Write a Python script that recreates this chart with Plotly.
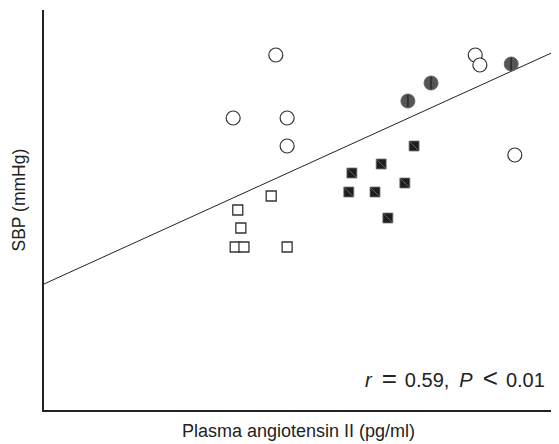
import plotly.graph_objects as go

# Data (arbitrary units; no tick labels in the original)
open_circle_x = [45.1, 36.8, 47.3, 47.3, 83.9, 84.8, 91.6]
open_circle_y = [188.75, 173.0, 173.0, 166.0, 188.75, 186.25, 163.75]

filled_circle_x = [70.8, 75.3, 90.9]
filled_circle_y = [177.25, 181.75, 186.5]

open_square_x = [44.2, 37.7, 38.3, 37.2, 38.9, 47.3]
open_square_y = [153.5, 150.0, 145.5, 140.75, 140.75, 140.75]

filled_square_x = [72.0, 65.6, 59.9, 59.3, 64.4, 70.2, 66.9]
filled_square_y = [166.0, 161.5, 159.25, 154.5, 154.5, 156.75, 148.0]

line_intercept = 131.5
line_slope = 0.585
x_range = [0, 100]
y_range = [100, 200]

FONT = "Liberation Sans, Arial, sans-serif"

fig = go.Figure()

# regression line
lx = x_range
ly = [line_intercept + line_slope * v for v in lx]
fig.add_trace(go.Scatter(x=lx, y=ly, mode="lines", cliponaxis=False,
                         line=dict(color="#222222", width=1), hoverinfo="skip"))

fig.add_trace(go.Scatter(x=open_circle_x, y=open_circle_y, mode="markers",
                         marker=dict(symbol="circle", size=14, color="white",
                                     line=dict(color="#333333", width=1.2))))
fig.add_trace(go.Scatter(x=filled_circle_x, y=filled_circle_y, mode="markers",
                         marker=dict(symbol="circle", size=14, color="#555555",
                                     line=dict(color="#666666", width=1))))
fig.add_trace(go.Scatter(x=filled_circle_x, y=filled_circle_y, mode="markers",
                         marker=dict(symbol="line-ns", size=9,
                                     line=dict(color="#2a2a2a", width=1.5))))
fig.add_trace(go.Scatter(x=open_square_x, y=open_square_y, mode="markers",
                         marker=dict(symbol="square", size=10, color="white",
                                     line=dict(color="#333333", width=1.3))))
fig.add_trace(go.Scatter(x=filled_square_x, y=filled_square_y, mode="markers",
                         marker=dict(symbol="square", size=10, color="#1e1e1e",
                                     line=dict(color="#777777", width=0.8))))
fig.add_trace(go.Scatter(x=filled_square_x, y=filled_square_y, mode="markers",
                         marker=dict(symbol="line-nw", size=9,
                                     line=dict(color="#777777", width=0.8))))

stat_text = ("<i>r</i>\u2002<span style='font-size:26px'>=</span>\u2009\u20090.59,\u2002"
             "<i>P</i>\u2002<span style='font-size:26px'>&lt;</span>\u2009\u20090.01")

# the page adds an 8px body margin, so the figure is 8px smaller than the window
fig.update_layout(
    width=551, height=436,
    margin=dict(l=36, r=1, t=2, b=34),
    paper_bgcolor="white", plot_bgcolor="white",
    showlegend=False,
    font=dict(family=FONT, size=18, color="#222222"),
    xaxis=dict(range=x_range, showgrid=False, zeroline=False, showticklabels=False,
               ticks="", showline=True, linecolor="#222222", linewidth=2),
    yaxis=dict(range=y_range, showgrid=False, zeroline=False, showticklabels=False,
               ticks="", showline=True, linecolor="#222222", linewidth=2),
    annotations=[
        dict(text=stat_text, xref="paper", yref="paper",
             x=0.979, y=0.08, xanchor="right", yanchor="middle", showarrow=False,
             font=dict(family=FONT, size=20, color="#222222")),
        dict(text="Plasma angiotensin II (pg/ml)", xref="paper", yref="paper",
             x=0.496, y=-0.0525, xanchor="center", yanchor="middle", showarrow=False,
             font=dict(family=FONT, size=18, color="#222222")),
        dict(text="SBP (mmHg)", xref="paper", yref="paper", textangle=-90,
             x=-0.0496, y=0.525, xanchor="center", yanchor="middle", showarrow=False,
             font=dict(family=FONT, size=17.5, color="#222222")),
    ],
)

fig.write_html("out.html")
